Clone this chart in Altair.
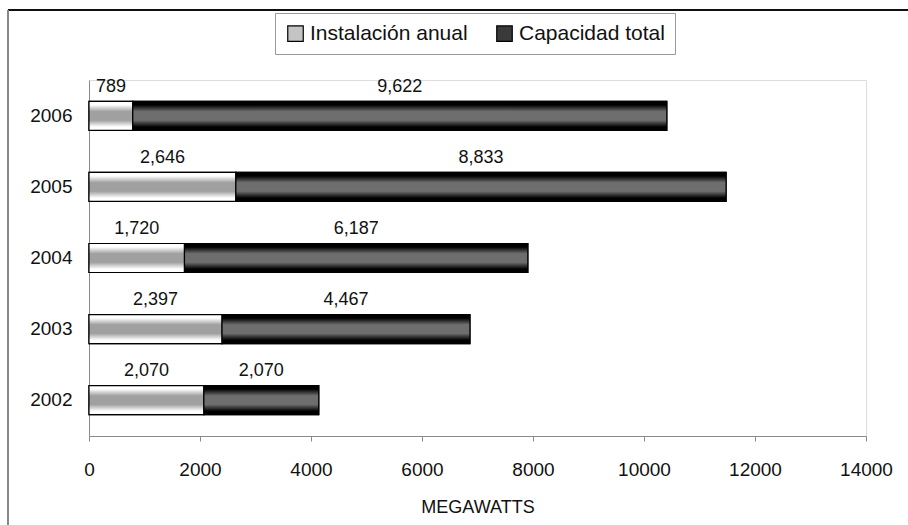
import altair as alt
import pandas as pd

# Wind power in megawatts, per year
years = ["2006", "2005", "2004", "2003", "2002"]
instalacion_anual = [789, 2646, 1720, 2397, 2070]
capacidad_total = [9622, 8833, 6187, 4467, 2070]
series_names = ["Instalación anual", "Capacidad total"]
x_ticks = [0, 2000, 4000, 6000, 8000, 10000, 12000, 14000]

rows = []
for yr, a, c in zip(years, instalacion_anual, capacidad_total):
    rows.append({"year": yr, "serie": series_names[0], "start": 0, "end": a, "value": a})
    rows.append({"year": yr, "serie": series_names[1], "start": a, "end": a + c, "value": c})
df = pd.DataFrame(rows)
df["mid"] = (df["start"] + df["end"]) / 2

FONT = "Liberation Sans Narrow, Arial Narrow, Liberation Sans, Arial"

x_scale = alt.Scale(domain=[0, 14000], nice=False)
y_scale = alt.Scale(domain=years, paddingInner=0.59, paddingOuter=0.3)

x_enc = alt.X(
    "start:Q",
    scale=x_scale,
    axis=alt.Axis(
        values=x_ticks, format="d", title="MEGAWATTS", grid=False,
        domainColor="#8a8a8a", tickColor="#8a8a8a", tickSize=5,
        labelFlush=False, labelOverlap=False,
        labelFont=FONT, labelFontSize=19, labelColor="#111", labelPadding=19,
        titleFont=FONT, titleFontSize=18, titleFontWeight="normal",
        titleColor="#111", titlePadding=19,
    ),
)
y_enc = alt.Y(
    "year:N",
    scale=y_scale,
    sort=years,
    axis=alt.Axis(
        title=None, domainColor="#8a8a8a", ticks=False,
        labelFont=FONT, labelFontSize=19, labelColor="#111", labelPadding=17,
    ),
)

def shade(edge, centre):
    return alt.LinearGradient(
        gradient="linear", x1=0, x2=0, y1=0, y2=1,
        stops=[
            alt.GradientStop(offset=0, color=edge),
            alt.GradientStop(offset=0.12, color=edge),
            alt.GradientStop(offset=0.35, color=centre),
            alt.GradientStop(offset=0.65, color=centre),
            alt.GradientStop(offset=0.88, color=edge),
            alt.GradientStop(offset=1, color=edge),
        ],
    )

# Base bars carry the legend
base = alt.Chart(df).mark_bar(size=29, stroke="black", strokeWidth=1.2).encode(
    x=x_enc,
    x2="end:Q",
    y=y_enc,
    color=alt.Color(
        "serie:N",
        scale=alt.Scale(domain=series_names, range=["#c4c4c4", "#3a3a3a"]),
        legend=alt.Legend(
            title=None, orient="none", direction="horizontal",
            legendX=186, legendY=-67,
            symbolType="square", symbolSize=240, symbolStrokeColor="black",
            symbolStrokeWidth=1.2,
            labelFont=FONT, labelFontSize=21, labelColor="#111", labelLimit=400,
            strokeColor="#999", padding=10, columnPadding=26, labelOffset=4,
            fillColor="white",
        ),
    ),
)

# Shaded overlays per series
inst = alt.Chart(df).transform_filter(
    alt.datum.serie == series_names[0]
).mark_bar(size=29, stroke="black", strokeWidth=1.2, fill=shade("#ffffff", "#a0a0a0")).encode(
    x=alt.X("start:Q", scale=x_scale), x2="end:Q", y=alt.Y("year:N", scale=y_scale, sort=years)
)
cap = alt.Chart(df).transform_filter(
    alt.datum.serie == series_names[1]
).mark_bar(size=29, stroke="black", strokeWidth=1.2, fill=shade("#000000", "#6e6e6e")).encode(
    x=alt.X("start:Q", scale=x_scale), x2="end:Q", y=alt.Y("year:N", scale=y_scale, sort=years)
)

labels = alt.Chart(df).mark_text(
    font=FONT, fontSize=18, color="#111", dy=-29, baseline="middle"
).encode(
    x=alt.X("mid:Q", scale=x_scale),
    y=alt.Y("year:N", scale=y_scale, sort=years),
    text=alt.Text("value:Q", format=","),
)

# Chart-area frame: top and left edges
frame_top = alt.Chart(df).mark_rule(color="#111", strokeWidth=1.5).encode(
    x=alt.value(-81), x2=alt.value(830), y=alt.value(-70)
)
frame_left = alt.Chart(df).mark_rule(color="#888", strokeWidth=1.2).encode(
    x=alt.value(-81), y=alt.value(-70), y2=alt.value(460)
)

chart = alt.layer(base, inst, cap, labels, frame_top, frame_left).properties(
    width=777,
    height=356,
    autosize=alt.AutoSizeParams(type="none"),
    padding={"left": 89, "top": 80, "right": 42, "bottom": 89},
).configure_view(stroke=None).configure(background="white")

chart.save("out.html", embed_options={"renderer": "svg", "actions": False})
